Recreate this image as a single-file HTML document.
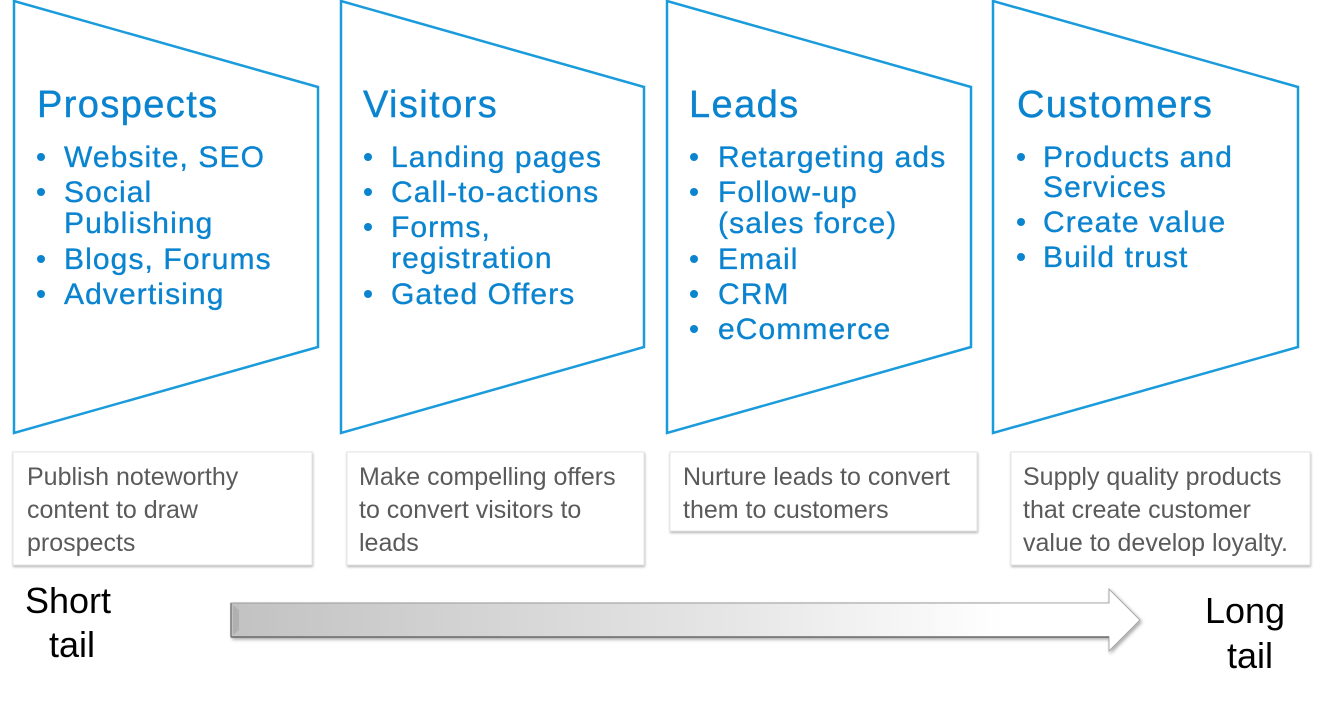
<!DOCTYPE html>
<html>
<head>
<meta charset="utf-8">
<style>
  html, body { margin:0; padding:0; background:#ffffff; }
  body { width:1320px; height:701px; overflow:hidden; position:relative; }
  svg { position:absolute; left:0; top:0; }
  .t { font-family:"Liberation Sans", Arial, sans-serif; }
</style>
</head>
<body>
<svg width="1320" height="701" viewBox="0 0 1320 701" xmlns="http://www.w3.org/2000/svg">
  <defs>
    <linearGradient id="ag" x1="231" y1="0" x2="1140" y2="0" gradientUnits="userSpaceOnUse">
      <stop offset="0" stop-color="#c2c2c2"/>
      <stop offset="0.55" stop-color="#e6e6e6"/>
      <stop offset="0.85" stop-color="#ffffff"/>
      <stop offset="1" stop-color="#ffffff"/>
    </linearGradient>
    <filter id="sh" x="-5%" y="-50%" width="110%" height="200%">
      <feDropShadow dx="1.5" dy="2" stdDeviation="1.8" flood-color="#000" flood-opacity="0.35"/>
    </filter>
    <filter id="bs" x="-5%" y="-10%" width="110%" height="130%">
      <feDropShadow dx="0.5" dy="1.5" stdDeviation="1.2" flood-color="#000" flood-opacity="0.3"/>
    </filter>
  </defs>

  <!-- Trapezoids -->
  <g fill="#ffffff" stroke="#1a9bdb" stroke-width="2.5" stroke-linejoin="miter">
    <polygon points="14,1 318,87 318,347 14,433"/>
    <polygon points="341,1 644,87 644,347 341,433"/>
    <polygon points="667,1 971,87 971,347 667,433"/>
    <polygon points="993,1 1298,87 1298,347 993,433"/>
  </g>

  <!-- Titles -->
  <g class="t" fill="#0b84d0" stroke="#0b84d0" stroke-width="0.4" font-size="38" letter-spacing="1.4">
    <text x="37" y="117">Prospects</text>
    <text x="363" y="117">Visitors</text>
    <text x="689" y="117">Leads</text>
    <text x="1017" y="117">Customers</text>
  </g>

  <!-- Bullets -->
  <g fill="#0b84d0">
    <circle cx="41" cy="157" r="4"/>
    <circle cx="41" cy="192" r="4"/>
    <circle cx="41" cy="259" r="4"/>
    <circle cx="41" cy="294" r="4"/>

    <circle cx="368" cy="157" r="4"/>
    <circle cx="368" cy="192" r="4"/>
    <circle cx="368" cy="227" r="4"/>
    <circle cx="368" cy="294" r="4"/>

    <circle cx="694" cy="157" r="4"/>
    <circle cx="694" cy="192" r="4"/>
    <circle cx="694" cy="259" r="4"/>
    <circle cx="694" cy="294" r="4"/>
    <circle cx="694" cy="329" r="4"/>

    <circle cx="1021" cy="157" r="4"/>
    <circle cx="1021" cy="222" r="4"/>
    <circle cx="1021" cy="257" r="4"/>
  </g>

  <g class="t" fill="#0b84d0" stroke="#0b84d0" stroke-width="0.35" font-size="30" letter-spacing="1.1">
    <text x="64" y="167">Website, SEO</text>
    <text x="64" y="202">Social</text>
    <text x="64" y="233">Publishing</text>
    <text x="64" y="269">Blogs, Forums</text>
    <text x="64" y="304">Advertising</text>

    <text x="391" y="167">Landing pages</text>
    <text x="391" y="202">Call-to-actions</text>
    <text x="391" y="237">Forms,</text>
    <text x="391" y="268">registration</text>
    <text x="391" y="304">Gated Offers</text>

    <text x="718" y="167">Retargeting ads</text>
    <text x="718" y="202">Follow-up</text>
    <text x="718" y="233">(sales force)</text>
    <text x="718" y="269">Email</text>
    <text x="718" y="304">CRM</text>
    <text x="718" y="339">eCommerce</text>

    <text x="1043" y="167">Products and</text>
    <text x="1043" y="197">Services</text>
    <text x="1043" y="232">Create value</text>
    <text x="1043" y="267">Build trust</text>
  </g>

  <!-- Caption boxes -->
  <g fill="#ffffff" stroke="#e4e4e4" stroke-width="1" filter="url(#bs)">
    <rect x="13" y="452" width="299" height="113"/>
    <rect x="347" y="452" width="297" height="113"/>
    <rect x="670" y="452" width="307" height="79"/>
    <rect x="1011" y="452" width="299" height="113"/>
  </g>

  <g class="t" fill="#5a5a5a" font-size="25">
    <text x="27" y="485">Publish noteworthy</text>
    <text x="27" y="518">content to draw</text>
    <text x="27" y="551">prospects</text>

    <text x="359" y="485">Make compelling offers</text>
    <text x="359" y="518">to convert visitors to</text>
    <text x="359" y="551">leads</text>

    <text x="683" y="485">Nurture leads to convert</text>
    <text x="683" y="518">them to customers</text>

    <text x="1023" y="485">Supply quality products</text>
    <text x="1023" y="518">that create customer</text>
    <text x="1023" y="551">value to develop loyalty.</text>
  </g>

  <!-- Arrow -->
  <path d="M231,603 L1109,603 L1109,589 L1140,620 L1109,651 L1109,637 L231,637 Z"
        fill="url(#ag)" stroke="#a8a8a8" stroke-width="1" filter="url(#sh)"/>
  <line x1="231" y1="637" x2="1109" y2="637" stroke="#6a6a6a" stroke-width="1.5"/>
  <line x1="231" y1="603" x2="231" y2="637" stroke="#7a7a7a" stroke-width="1.5"/>
  <line x1="231" y1="603" x2="1000" y2="603" stroke="#9a9a9a" stroke-width="1"/>
  <polygon points="233,605 239,610 239,630 233,635" fill="#b0b0b0"/>

  <!-- Tail labels -->
  <g class="t" fill="#000000" font-size="36" text-anchor="middle">
    <text x="68" y="613">Short</text>
    <text x="72" y="657">tail</text>
    <text x="1245" y="623">Long</text>
    <text x="1250" y="668">tail</text>
  </g>
</svg>
</body>
</html>
